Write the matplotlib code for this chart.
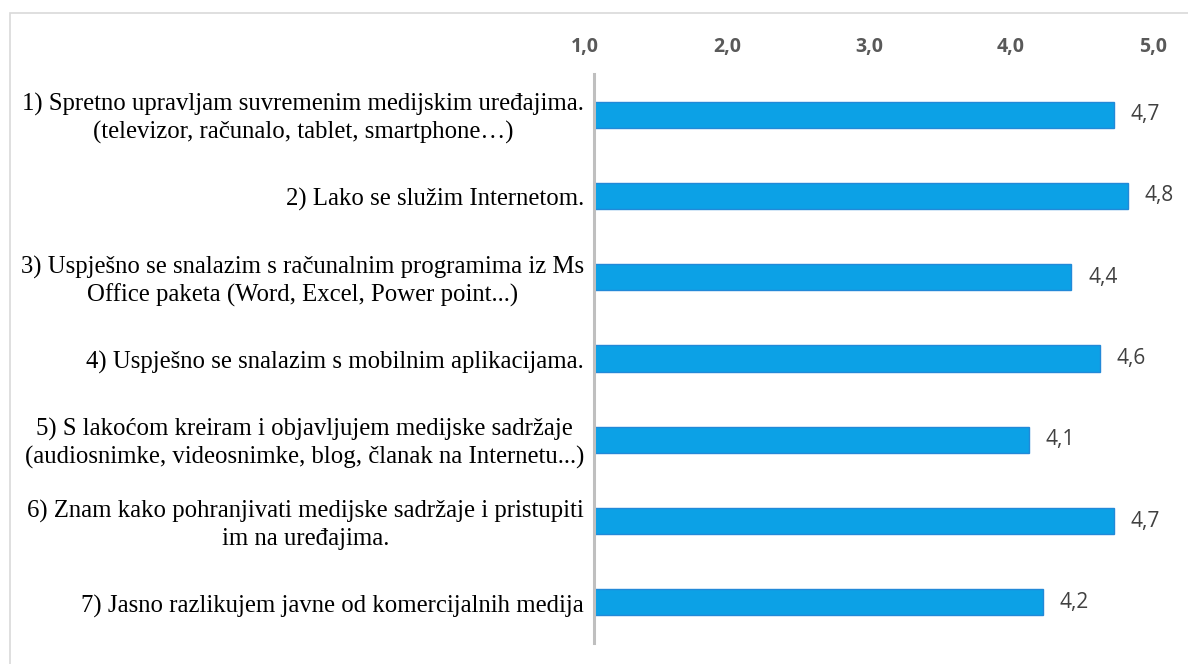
import matplotlib
matplotlib.use("Agg")
import matplotlib.pyplot as plt
from matplotlib.patches import Rectangle
import matplotlib.transforms as mtransforms

categories = [
    "1) Spretno upravljam suvremenim medijskim uređajima.\n(televizor, računalo, tablet, smartphone…)",
    "2) Lako se služim Internetom.",
    "3) Uspješno se snalazim s računalnim programima iz Ms\nOffice paketa (Word, Excel, Power point...)",
    "4) Uspješno se snalazim s mobilnim aplikacijama.",
    "5) S lakoćom kreiram i objavljujem medijske sadržaje\n(audiosnimke, videosnimke, blog, članak na Internetu...)",
    "6) Znam kako pohranjivati medijske sadržaje i pristupiti\nim na uređajima.",
    "7) Jasno razlikujem javne od komercijalnih medija",
]
values = [4.66, 4.76, 4.36, 4.56, 4.06, 4.66, 4.16]
tick_values = [1.0, 2.0, 3.0, 4.0, 5.0]
tick_labels = ["1,0", "2,0", "3,0", "4,0", "5,0"]

W, H = 1188, 664
fig = plt.figure(figsize=(W / 100, H / 100), dpi=100)
fig.patch.set_facecolor("white")

# outer frame
fig.patches.append(Rectangle((10 / W, -0.1), 1.2, 1 - 13 / H + 0.1,
                             transform=fig.transFigure, fill=False,
                             edgecolor="#d9d9d9", linewidth=1.2))

left, right = 594 / W, 1162 / W
top, bottom = 1 - 74 / H, 1 - 643 / H
ax = fig.add_axes([left, bottom, right - left, top - bottom])

ypos = list(range(len(categories)))
bars = ax.barh(ypos, [v - 1.0 for v in values], left=1.0, height=0.32,
               color="#0ca1e6", edgecolor="#2289d8", linewidth=1.0, zorder=2)

val_shift = mtransforms.ScaledTranslation(17 / 100, 0, fig.dpi_scale_trans)
for b, v in zip(bars, values):
    ax.text(v, b.get_y() + b.get_height() / 2, f"{v:.1f}".replace(".", ","),
            ha="left", va="center", fontsize=15, color="#404040",
            family="Open Sans", transform=ax.transData + val_shift)

ax.set_xlim(1.0, 5.0)
ax.set_ylim(len(categories) - 0.5, -0.5)

ax.xaxis.tick_top()
ax.set_xticks(tick_values)
ax.set_xticklabels(tick_labels, fontsize=14, fontweight="bold", color="#595959", family="Open Sans")
ax.tick_params(axis="x", length=0, pad=12)
offset = mtransforms.ScaledTranslation(-9 / 100, 0, fig.dpi_scale_trans)
for lbl in ax.get_xticklabels():
    lbl.set_transform(lbl.get_transform() + offset)

ax.set_yticks(ypos)
ax.set_yticklabels([])
ax.tick_params(axis="y", length=0)
lab_trans = (mtransforms.blended_transform_factory(ax.transAxes, ax.transData)
             + mtransforms.ScaledTranslation(-10 / 100, -4 / 100, fig.dpi_scale_trans))
for y, c in zip(ypos, categories):
    ax.text(0, y, c, ha="right", va="center", multialignment="center",
            fontsize=17.8, family="Liberation Serif", color="#000000",
            linespacing=1.28, transform=lab_trans)

for s in ["top", "right", "bottom"]:
    ax.spines[s].set_visible(False)
ax.spines["left"].set_color("#bfbfbf")
ax.spines["left"].set_linewidth(2.2)
ax.set_facecolor("none")

fig.savefig("out.png", dpi=100, facecolor="white")
